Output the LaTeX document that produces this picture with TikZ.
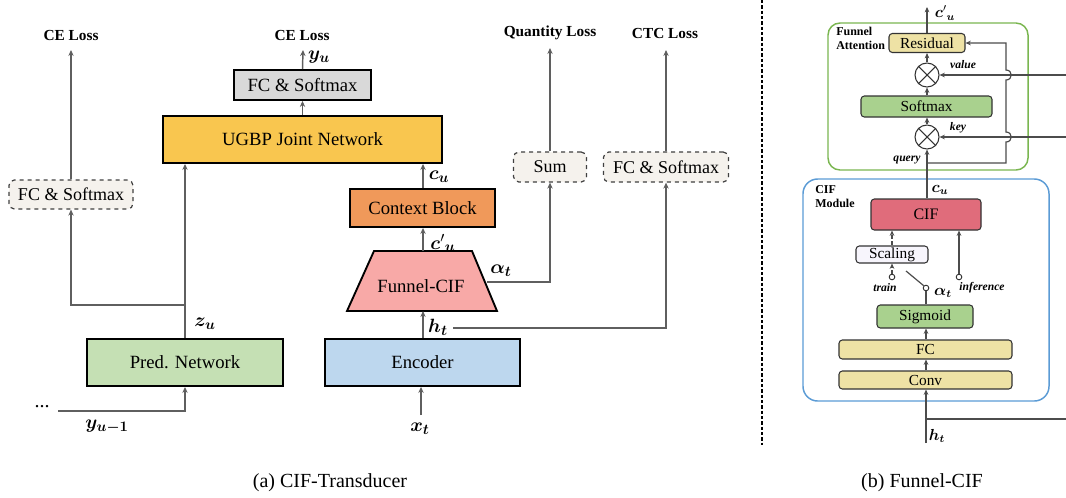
\documentclass[tikz,border=0pt]{standalone}
\usepackage{fontspec}
\setmainfont{Liberation Serif}
\usepackage{bm}
\usetikzlibrary{arrows.meta}
\definecolor{predg}{HTML}{C5E0B4}
\definecolor{encb}{HTML}{BDD7EE}
\definecolor{ugbpy}{HTML}{F9C64F}
\definecolor{fcg}{HTML}{D9D9D9}
\definecolor{ctxo}{HTML}{F0995A}
\definecolor{funp}{HTML}{F8A9A7}
\definecolor{dashf}{HTML}{F5F2ED}
\definecolor{attg}{HTML}{7AB650}
\definecolor{cifbl}{HTML}{5B9BD5}
\definecolor{smg}{HTML}{A9D18E}
\definecolor{resy}{HTML}{EEE2A5}
\definecolor{cifr}{HTML}{E06C7B}
\definecolor{scalf}{HTML}{F7F5FC}
\definecolor{lgray}{HTML}{5F5F5F}
\begin{document}
\begin{tikzpicture}[x=0.75pt,y=-0.75pt,
  sz/.style 2 args={minimum width=#1*0.75pt, minimum height=#2*0.75pt},
  sbox/.style={draw=black, line width=1.4pt, inner sep=0pt, font=\fontsize{14}{16}\selectfont},
  dbox/.style={draw=black!75, dashed, line width=0.9pt, rounded corners=4pt, fill=dashf, inner sep=0pt, font=\fontsize{13.5}{15}\selectfont},
  rbox/.style={draw=black!80, line width=0.8pt, rounded corners=2.5pt, inner sep=0pt, font=\fontsize{11.5}{13}\selectfont},
  arr/.style={draw=lgray, line width=1.1pt, -{Stealth[length=4.5pt,width=4pt]}},
  ln/.style={draw=lgray, line width=1.1pt},
  rarr/.style={draw=black!70, line width=0.9pt, -{Stealth[length=4pt,width=3.5pt]}},
  rln/.style={draw=black!70, line width=0.9pt},
  loss/.style={font=\bfseries\fontsize{11.5}{13}\selectfont, inner sep=0pt},
  mlab/.style={font=\fontsize{15}{17}\selectfont, inner sep=0pt},
  smlab/.style={font=\fontsize{11.5}{13}\selectfont, inner sep=0pt},
  itlab/.style={font=\bfseries\itshape\fontsize{8.7}{10}\selectfont, inner sep=0pt},
  otimes/.style={circle, draw=black!80, line width=0.8pt, fill=white, minimum size=18pt, inner sep=0pt},
  sw/.style={circle, draw=black!80, line width=0.7pt, fill=white, minimum size=4.2pt, inner sep=0pt},
  captext/.style={font=\fontsize{15}{17}\selectfont, inner sep=0pt}
]
\useasboundingbox (0,0) rectangle (1066,497);

% ---------------- (a) CIF-Transducer ----------------
\node[sbox, fill=predg, sz={196}{47}] (pred) at (185,362.5) {Pred. Network};
\node[sbox, fill=encb, sz={195}{47}] (enc) at (422.5,362.5) {Encoder};
\node[sbox, fill=ugbpy, sz={279}{47}] (ugbp) at (302.5,139.5) {UGBP Joint Network};
\node[sbox, fill=fcg, sz={137}{30}] (fcs) at (302.5,85) {FC \& Softmax};
\node[sbox, fill=ctxo, sz={145}{38}] (ctx) at (422.5,208) {Context Block};
\draw[line width=1.4pt, fill=funp] (374,251) -- (472,251) -- (497,311) -- (347,311) -- cycle;
\node[font=\fontsize{14}{16}\selectfont, inner sep=0pt] (fun) at (421,286) {Funnel-CIF};
\coordinate (funtop) at (423,251);
\coordinate (funbot) at (423,311);
\coordinate (funr) at (487,282);

\node[dbox, sz={124}{29}] (fcl) at (71,194.5) {FC \& Softmax};
\node[dbox, sz={73}{30}] (sum) at (550,167) {Sum};
\node[dbox, sz={125}{30}] (ctc) at (666,167) {FC \& Softmax};

\node[loss] (ce1) at (71,35) {CE Loss};
\node[loss] (ce2) at (302,35) {CE Loss};
\node[loss] (ql) at (550,33) {Quantity Loss};
\node[loss] (cl) at (665,33) {CTC Loss};

\coordinate (l1) at (71,50);
\coordinate (l2) at (303,50);
\coordinate (l3) at (550,48);
\coordinate (l4) at (666,50);
\draw[arr] (fcl.north) -- (l1);
\draw[arr] (fcs.north) -- (l2);
\draw[arr] (sum.north) -- (l3);
\draw[arr] (ctc.north) -- (l4);

\draw[arr] (ugbp.north -| fcs) -- (fcs.south);
\draw[arr] (pred.north) -- (pred.north |- ugbp.south);
\coordinate (zj) at (185,305);
\draw[arr] (zj) -| (fcl.south);
\coordinate (ys) at (58,411);
\draw[arr] (ys) -| (pred.south);
\coordinate (xs) at (421,415);
\draw[arr] (xs) -- (xs |- enc.south);
\draw[arr] (enc.north -| funbot) -- (funbot);
\draw[arr] (funtop) -- (funtop |- ctx.south);
\draw[arr] (ctx.north -| funtop) -- (funtop |- ugbp.south);
\draw[arr] (funr) -| (sum.south);
\coordinate (htl) at (453,328);
\draw[arr] (htl) -| (ctc.south);

\node[mlab] (lyu) at (319,57) {$\bm{y}_{\bm{u}}$};
\node[mlab] (lzu) at (205,324) {$\bm{z}_{\bm{u}}$};
\node[mlab] (lyu1) at (107,427) {$\bm{y}_{\bm{u-1}}$};
\node[mlab] (dots) at (42,407) {...};
\node[mlab] (lcu) at (439,177) {$\bm{c}_{\bm{u}}$};
\node[mlab] (lcpu) at (443,243) {${\bm{c}'}_{\bm{u}}$};
\node[mlab] (lal) at (501,271) {$\bm{\alpha}_{\bm{t}}$};
\node[mlab] (lht) at (438,327) {$\bm{h}_{\bm{t}}$};
\node[mlab] (lxt) at (420,429) {$\bm{x}_{\bm{t}}$};

\node[captext] (capa) at (330,483) {(a) CIF-Transducer};

% divider
\draw[black, line width=1pt, dash pattern=on 2.5pt off 1.5pt] (762,0) -- (762,445);

% ---------------- (b) Funnel-CIF ----------------
\draw[attg, line width=1.1pt, rounded corners=9pt] (828,23) rectangle (1028,170);
\draw[cifbl, line width=1.1pt, rounded corners=11pt] (803,179) rectangle (1049,401);

\node[font=\bfseries\fontsize{9}{10.5}\selectfont, align=left, anchor=north west, inner sep=0pt] (fatt) at (836,27) {Funnel\\Attention};
\node[font=\bfseries\fontsize{9}{10.5}\selectfont, align=left, anchor=north west, inner sep=0pt] (cmod) at (815,185) {CIF\\Module};

\node[rbox, fill=resy, sz={76}{19}] (res) at (927,43) {Residual};
\node[otimes] (ov) at (927,75) {};
\draw[black!80, line width=0.8pt] (ov.north east) -- (ov.south west) (ov.north west) -- (ov.south east);
\node[rbox, fill=smg, sz={131}{21}] (smx) at (926.5,106.5) {Softmax};
\node[otimes] (ok) at (927,137) {};
\draw[black!80, line width=0.8pt] (ok.north east) -- (ok.south west) (ok.north west) -- (ok.south east);

\node[rbox, fill=cifr, sz={110}{31}, font=\fontsize{12}{14}\selectfont] (cif) at (926,214.5) {CIF};
\node[rbox, fill=scalf, sz={72}{17}] (scal) at (892,254.5) {Scaling};
\node[rbox, fill=smg, sz={96}{23}] (sig) at (925,316.5) {Sigmoid};
\node[rbox, fill=resy, sz={173}{19}] (fc) at (925.5,349.5) {FC};
\node[rbox, fill=resy, sz={173}{18}] (conv) at (925.5,380) {Conv};

\node[sw] (trc) at (892,277) {};
\node[sw] (alc) at (926,288) {};
\node[sw] (inc) at (959,277) {};

% main flow
\coordinate (hts) at (926,443);
\coordinate (htj) at (926,419);
\coordinate (hte) at (1066,419);
\draw[rarr] (hts) -- (hts |- conv.south);
\draw[rln] (htj) -- (hte);
\draw[rarr] (conv.north -| hts) -- (hts |- fc.south);
\draw[rarr] (fc.north -| hts) -- (hts |- sig.south);
\draw[rln] (sig.north -| alc) -- (alc.south);
\coordinate (lev) at (906,271);
\draw[rln] (alc.north west) -- (lev);
\draw[rarr, densely dashed] (trc.north) -- (scal.south);
\draw[rarr, densely dashed] (scal.north) -- (scal.north |- cif.south);
\draw[rarr] (inc.north) -- (inc.north |- cif.south);
\draw[rarr] (cif.north -| ok) -- (ok.south);
\draw[rarr] (ok.north) -- (ok.north |- smx.south);
\draw[rarr] (smx.north -| ov) -- (ov.south);
\draw[rarr] (ov.north) -- (ov.north |- res.south);
\coordinate (cout) at (927,7);
\draw[rarr] (res.north) -- (cout);

% key / value inputs
\coordinate (ve) at (1066,75);
\coordinate (ke) at (1066,137);
\draw[rarr] (ve) -- (ov.east);
\draw[rarr] (ke) -- (ok.east);

% residual path with hops
\coordinate (qj) at (927,163);
\draw[rarr] (qj) -- (1006,163) -- (1006,142)
  .. controls (1013,142) and (1013,132) .. (1006,132) -- (1006,80)
  .. controls (1013,80) and (1013,70) .. (1006,70) -- (1006,43) -- (res.east);

% labels
\node[itlab] (lval) at (963,65) {value};
\node[itlab] (lkey) at (958,128) {key};
\node[itlab] (lqry) at (907,160) {query};
\node[itlab] (ltr) at (885,288) {train};
\node[itlab] (linf) at (982,288) {inference};
\node[smlab] (rcpu) at (945,13) {${\bm{c}'}_{\bm{u}}$};
\node[smlab] (rcu) at (940,190) {$\bm{c}_{\bm{u}}$};
\node[smlab] (ral) at (943,293) {$\bm{\alpha}_{\bm{t}}$};
\node[smlab] (rht) at (937,436) {$\bm{h}_{\bm{t}}$};

\node[captext] (capb) at (922,483) {(b) Funnel-CIF};
\end{tikzpicture}
\end{document}
